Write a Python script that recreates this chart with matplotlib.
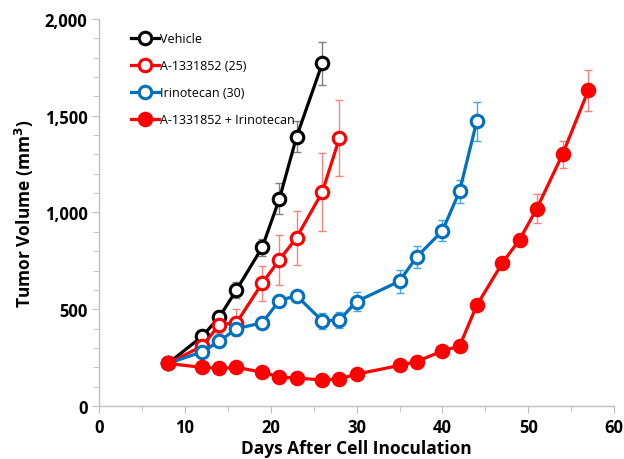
import numpy as np
import matplotlib.pyplot as plt
from matplotlib.ticker import MultipleLocator, FuncFormatter

# values
veh_day = [8, 12, 14, 16, 19, 21, 23, 26]
veh_vol = [220, 360, 460, 600, 820, 1070, 1390, 1770]
veh_err = [0, 20, 30, 40, 45, 80, 80, 110]

a_day = [8, 12, 14, 16, 19, 21, 23, 26, 28]
a_vol = [220, 310, 420, 430, 635, 755, 870, 1105, 1385]
a_err = [0, 30, 40, 70, 90, 130, 140, 200, 195]

iri_day = [8, 12, 14, 16, 19, 21, 23, 26, 28, 30, 35, 37, 40, 42, 44]
iri_vol = [220, 280, 335, 400, 430, 545, 570, 440, 445, 540, 645, 770, 905, 1110, 1470]
iri_err = [0, 15, 15, 20, 20, 25, 25, 40, 40, 50, 60, 55, 55, 60, 100]

combo_day = [8, 12, 14, 16, 19, 21, 23, 26, 28, 30, 35, 37, 40, 42, 44, 47, 49, 51, 54, 57]
combo_vol = [220, 200, 195, 200, 175, 150, 145, 135, 140, 165, 210, 230, 285, 310, 520, 740, 860, 1020, 1300, 1630]
combo_err = [0, 10, 10, 10, 10, 10, 10, 10, 10, 10, 10, 15, 20, 20, 25, 30, 30, 75, 70, 105]

plt.rcParams['font.family'] = ['Open Sans', 'DejaVu Sans']

fig = plt.figure(figsize=(6.24, 4.6), dpi=100)
ax = fig.add_axes([0.159, 0.115, 0.825, 0.842])

series = [
    (veh_day, veh_vol, veh_err, 'black', '#808080', 'white', 'Vehicle'),
    (a_day, a_vol, a_err, '#FF0000', '#FF8080', 'white', 'A-1331852 (25)'),
    (iri_day, iri_vol, iri_err, '#0070C0', '#40A8E0', 'white', 'Irinotecan (30)'),
    (combo_day, combo_vol, combo_err, '#FF0000', '#FF8080', '#FF0000', 'A-1331852 + Irinotecan'),
]

handles = []
for day, vol, err, col, ecol, fcol, lab in series:
    ax.errorbar(day, vol, yerr=err, fmt='none', ecolor=ecol, elinewidth=1, capsize=3, capthick=1, zorder=2)
    h, = ax.plot(day, vol, color=col, lw=2.3, marker='o', ms=9, mfc=fcol, mec=col, mew=2.2, label=lab, zorder=3)
    handles.append(h)

ax.set_xlim(0, 60)
ax.set_ylim(0, 2000)
ax.xaxis.set_major_locator(MultipleLocator(10))
ax.xaxis.set_minor_locator(MultipleLocator(5))
ax.yaxis.set_major_locator(MultipleLocator(500))
ax.yaxis.set_minor_locator(MultipleLocator(100))
ax.yaxis.set_major_formatter(FuncFormatter(lambda v, p: f'{int(v):,}'))

for s in ['top', 'right']:
    ax.spines[s].set_visible(False)
for s in ['left', 'bottom']:
    ax.spines[s].set_color('#BFBFBF')
    ax.spines[s].set_linewidth(1)
ax.tick_params(which='both', direction='out', color='#BFBFBF', labelsize=12)
ax.tick_params(which='major', length=5)
ax.tick_params(which='minor', length=4)
for t in ax.get_xticklabels() + ax.get_yticklabels():
    t.set_fontweight('bold')

ax.set_xlabel('Days After Cell Inoculation', fontsize=12.5, fontweight='bold', labelpad=2)
ax.set_ylabel('Tumor Volume (mm$^\\mathbf{3}$)', fontsize=12.5, fontweight='bold', labelpad=6)

leg = ax.legend(handles=handles, loc='upper left', bbox_to_anchor=(0.04, 0.995), frameon=False,
                fontsize=9, handlelength=2.2, handletextpad=0.1, labelspacing=1.12, borderaxespad=0.5)
leg.set_zorder(5)

plt.savefig('out.png', dpi=100)
